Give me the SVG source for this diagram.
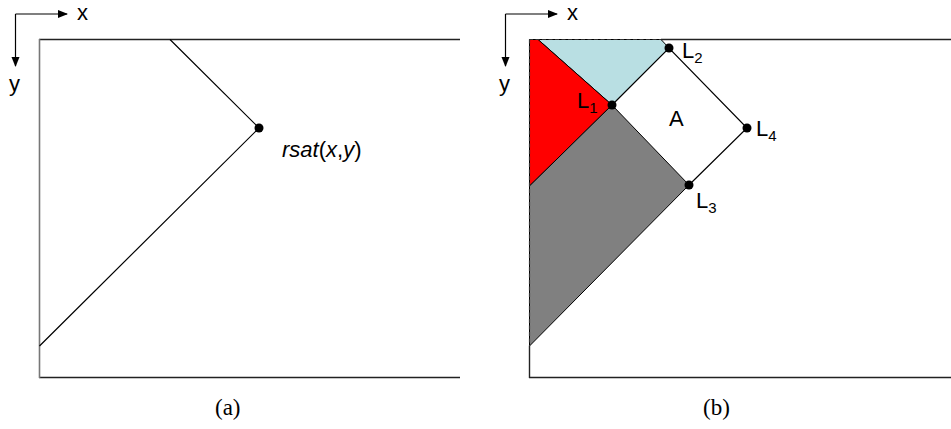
<svg xmlns="http://www.w3.org/2000/svg" width="951" height="429" viewBox="0 0 951 429">
<style>
.t{font-family:"Liberation Sans",Arial,sans-serif;font-size:22px;fill:#000}
.s{font-size:15px}
.cap{font-family:"Liberation Serif","Times New Roman",serif;font-size:23px;fill:#000}
.ln{stroke:#000;stroke-width:1.2;fill:none}
.frame{stroke:#222;stroke-width:1.6;fill:none}
.ax{stroke:#000;stroke-width:1.2;fill:none}
</style>
<defs>
<marker id="ah" markerWidth="10" markerHeight="10" refX="9" refY="5" orient="auto" markerUnits="userSpaceOnUse">
<path d="M0,1 L10,5 L0,9 Z" fill="#000"/>
</marker>
</defs>
<g id="panel-a">
<g id="axes-a">
<line class="ax" x1="15.5" y1="14" x2="67" y2="14" marker-end="url(#ah)"/>
<line class="ax" x1="15.5" y1="14" x2="15.5" y2="66" marker-end="url(#ah)"/>
<text class="t" x="77" y="20">x</text>
<text class="t" x="9" y="91">y</text>
</g>
<g id="frame-a">
<line class="frame" x1="39" y1="39.5" x2="460" y2="39.5"/>
<line class="frame" x1="39" y1="377.5" x2="460" y2="377.5"/>
<line x1="39.5" y1="39" x2="39.5" y2="378" stroke="#777" stroke-width="1.6"/>
</g>
<g id="connectors-a">
<polyline class="ln" points="170,39.5 259,128 39.5,346"/>
</g>
<g id="rsat">
<circle cx="259" cy="128" r="4.5" fill="#000"/>
<text class="t" x="282" y="157"><tspan font-style="italic">rsat</tspan>(<tspan font-style="italic">x</tspan>,<tspan font-style="italic">y</tspan>)</text>
</g>
<text class="cap" x="215" y="415">(a)</text>
</g>
<g id="panel-b">
<g id="axes-b">
<line class="ax" x1="505.5" y1="14" x2="557" y2="14" marker-end="url(#ah)"/>
<line class="ax" x1="505.5" y1="14" x2="505.5" y2="66" marker-end="url(#ah)"/>
<text class="t" x="567" y="20">x</text>
<text class="t" x="499" y="91">y</text>
</g>
<g id="regions">
<polygon id="blue" points="538,39.5 661,39.5 669,48 612,105" fill="#b9dfe3" stroke="#000" stroke-width="1"/>
<polygon id="red" points="529.5,39.5 538,39.5 612,105 529.5,186" fill="#ff0000" stroke="#000" stroke-width="1"/>
<polygon id="gray" points="529.5,186 612,105 689,185 529.5,346" fill="#808080" stroke="#000" stroke-width="1"/>
</g>
<g id="frame-b">
<line x1="529" y1="39.5" x2="661" y2="39.5" stroke="#333" stroke-width="1.2" stroke-dasharray="4,2.5"/>
<line class="frame" x1="661" y1="39.5" x2="951" y2="39.5"/>
<line x1="529.5" y1="39.5" x2="529.5" y2="346" stroke="#333" stroke-width="1.2" stroke-dasharray="4,2.5"/>
<line x1="529.5" y1="346" x2="529.5" y2="378" stroke="#222" stroke-width="1.4"/>
<line class="frame" x1="529" y1="377.5" x2="951" y2="377.5"/>
</g>
<g id="connectors-b">
<polyline class="ln" points="612,105 669,48 747,128 689,185"/>
</g>
<g id="L1"><circle cx="612" cy="105" r="4.5" fill="#000"/><text class="t" x="577" y="108">L<tspan class="s" dy="5">1</tspan></text></g>
<g id="L2"><circle cx="669" cy="48" r="4.5" fill="#000"/><text class="t" x="682" y="58">L<tspan class="s" dy="5">2</tspan></text></g>
<g id="L4"><circle cx="747" cy="128" r="4.5" fill="#000"/><text class="t" x="756" y="136">L<tspan class="s" dy="5">4</tspan></text></g>
<g id="L3"><circle cx="689" cy="185" r="4.5" fill="#000"/><text class="t" x="696" y="208">L<tspan class="s" dy="5">3</tspan></text></g>
<g id="A"><text class="t" x="669" y="126">A</text></g>
<text class="cap" x="703" y="415">(b)</text>
</g>
</svg>
